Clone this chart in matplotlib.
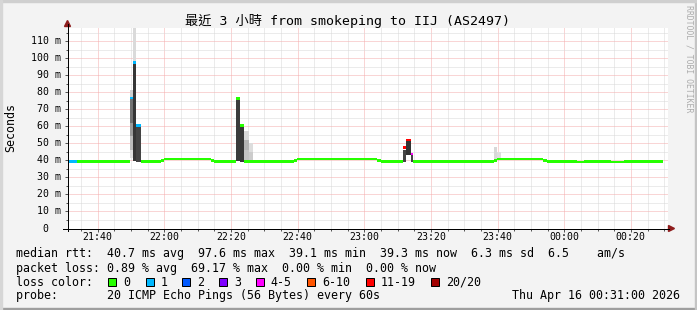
import matplotlib
matplotlib.use("Agg")
import matplotlib.pyplot as plt
import matplotlib.transforms as mtrans
from matplotlib.patches import Rectangle, Polygon
from matplotlib.lines import Line2D

# ---------------- data ----------------
title = "最近 3 小時 from smokeping to IIJ (AS2497)"
y_label = "Seconds"
watermark = "RRDTOOL / TOBI OETIKER"

# x axis: minutes since 21:31
x_range = [0, 180]
xtick_minutes = [9, 29, 49, 69, 89, 109, 129, 149, 169]
xtick_labels = ["21:40", "22:00", "22:20", "22:40", "23:00", "23:20", "23:40", "00:00", "00:20"]
xminor_minutes = list(range(4, 180, 5))

y_range = [0, 117.65]
ytick_values = [0, 10, 20, 30, 40, 50, 60, 70, 80, 90, 100, 110]
ytick_labels = ["0  ", "10 m", "20 m", "30 m", "40 m", "50 m", "60 m", "70 m",
                "80 m", "90 m", "100 m", "110 m"]
yminor_values = list(range(5, 117, 5))

loss_labels = ["0", "1", "2", "3", "4-5", "6-10", "11-19", "20/20"]
loss_colors = ["#26ff00", "#00b8ff", "#0059ff", "#7e00ff", "#ff00ff", "#ff5500", "#ff0000", "#a10000"]

# median rtt (ms) per time span, with loss class index
median_t0 = [0.0, 2.7, 18.7, 19.6, 20.6, 21.9, 27.9, 28.9, 42.9, 43.9, 50.4, 51.7, 52.9, 67.9, 68.9,
             92.7, 93.9, 100.5, 101.6, 102.9, 103.7, 127.9, 128.9, 142.7, 143.7, 152.7, 154.9, 162.9, 166.9]
median_t1 = [2.7, 18.7, 19.6, 20.6, 21.9, 27.9, 28.9, 42.9, 43.9, 50.4, 51.7, 52.9, 67.9, 68.9, 92.7,
             93.9, 100.5, 101.6, 102.9, 103.7, 127.9, 128.9, 142.7, 143.7, 152.7, 154.9, 162.9, 166.9, 178.7]
median_ms = [39.3, 39.3, 76.5, 97.6, 60.6, 39.3, 40.0, 40.8, 40.0, 39.3, 76.2, 60.6, 39.3, 40.0, 40.8,
             40.0, 39.3, 47.7, 52.0, 43.7, 39.3, 40.0, 40.8, 40.0, 39.3, 39.1, 39.3, 39.1, 39.3]
median_loss = [1, 0, 1, 1, 1, 0, 0, 0, 0, 0, 0, 0, 0, 0, 0,
               0, 0, 6, 6, 4, 0, 0, 0, 0, 0, 0, 0, 0, 0]

# smoke (ping spread) spans
smoke_t0 = [18.7, 18.7, 18.7, 18.7, 18.7, 19.6, 19.6, 20.6, 50.4, 51.7, 53.0, 53.0, 53.0, 54.3, 54.3,
            100.5, 101.6, 102.9, 127.9, 128.7]
smoke_t1 = [19.6, 19.6, 19.6, 19.6, 19.6, 20.6, 20.6, 21.9, 51.7, 52.9, 54.3, 54.3, 54.3, 55.6, 55.6,
            101.6, 102.9, 103.7, 128.7, 129.9]
smoke_lo = [41.5, 46.0, 54.0, 62.0, 77.3, 39.5, 98.4, 38.8, 39.5, 39.0, 40.3, 46.0, 52.0, 40.3, 45.0,
            39.0, 43.0, 39.0, 40.5, 40.5]
smoke_hi = [46.0, 54.0, 62.0, 75.7, 81.0, 96.8, 117.65, 59.8, 75.4, 59.8, 46.0, 52.0, 57.0, 45.0, 50.0,
            45.9, 51.3, 42.9, 47.8, 45.0]
smoke_shade = ["#e0e0e0", "#bcbcbc", "#9a9a9a", "#727272", "#d0d0d0", "#363636", "#dadada", "#444444",
               "#3c3c3c", "#383838", "#c4c4c4", "#b4b4b4", "#d8d8d8", "#cccccc", "#dddddd",
               "#444444", "#333333", "#444444", "#d8d8d8", "#dedede"]

legend_line1 = "median rtt:  40.7 ms avg  97.6 ms max  39.1 ms min  39.3 ms now  6.3 ms sd  6.5    am/s"
legend_line2 = "packet loss: 0.89 % avg  69.17 % max  0.00 % min  0.00 % now"
legend_line3 = "loss color:"
legend_line4 = "probe:       20 ICMP Echo Pings (56 Bytes) every 60s"
timestamp = "Thu Apr 16 00:31:00 2026"

# ---------------- layout ----------------
W, H = 697, 310
MONO = "DejaVu Sans Mono"
PX = 0.72  # one pixel in points at 100 dpi


def fx(x):
    return x / W


def fy(y):
    return 1 - y / H


fig = plt.figure(figsize=(W / 100, H / 100), dpi=100, facecolor="#f3f3f3")

# outer frame shades
fig.patches.append(Rectangle((0, 0), 1, 2 / H, transform=fig.transFigure, color="#9e9e9e", zorder=0))
fig.patches.append(Rectangle((1 - 2 / W, 0), 2 / W, 1, transform=fig.transFigure, color="#c4c4c4", zorder=0))
fig.patches.append(Rectangle((0, 1 - 2 / H), 1, 2 / H, transform=fig.transFigure, color="#cfcfcf", zorder=0))
fig.patches.append(Rectangle((0, 0), 2 / W, 1, transform=fig.transFigure, color="#d6d6d6", zorder=0))

ax = fig.add_axes([fx(67.5), fy(228.5), 600 / W, 200.5 / H])
ax.set_facecolor("white")
ax.set_xlim(*x_range)
ax.set_ylim(*y_range)
for s in ax.spines.values():
    s.set_visible(False)
ax.set_xticks(xtick_minutes)
ax.set_xticks(xminor_minutes, minor=True)
ax.set_yticks(ytick_values)
ax.set_yticks(yminor_values, minor=True)
ax.tick_params(which="both", labelbottom=False, labelleft=False, direction="out",
               color="#555555", width=PX)
ax.tick_params(which="major", length=3 * PX)
ax.tick_params(which="minor", length=2 * PX)
ax.grid(which="minor", color="#d9d9d9", linestyle=(0, (1, 1)), linewidth=PX)
ax.grid(which="major", color="#f5acac", linestyle=(0, (1, 1)), linewidth=PX)
ax.set_axisbelow(True)

# smoke
ax.bar(smoke_t0, [h - l for h, l in zip(smoke_hi, smoke_lo)],
       width=[b - a for a, b in zip(smoke_t0, smoke_t1)], bottom=smoke_lo,
       align="edge", color=smoke_shade, linewidth=0, zorder=2)

# median line blocks coloured by loss
cap = 1.6
ax.bar(median_t0, [cap] * len(median_ms),
       width=[b - a for a, b in zip(median_t0, median_t1)],
       bottom=[m - cap / 2 for m in median_ms], align="edge",
       color=[loss_colors[i] for i in median_loss], linewidth=0, zorder=3)

# axis lines + arrows
fig.add_artist(Line2D([fx(67.5), fx(67.5)], [fy(231), fy(24)], color="black", lw=PX))
fig.add_artist(Line2D([fx(63), fx(669)], [fy(228.5), fy(228.5)], color="black", lw=PX))
fig.add_artist(Polygon([(fx(64.5), fy(26.5)), (fx(70.5), fy(26.5)), (fx(67.5), fy(20.5))],
                       closed=True, transform=fig.transFigure, color="#8e1c1c"))
fig.add_artist(Polygon([(fx(668.5), fy(225.5)), (fx(668.5), fy(231.5)), (fx(674.5), fy(228.5))],
                       closed=True, transform=fig.transFigure, color="#8e1c1c"))

# tick labels
tick_fs = 7.1
char_w = tick_fs * 0.602 / 72 * 100
yt = mtrans.blended_transform_factory(fig.transFigure, ax.transData)
for v, lab in zip(ytick_values, ytick_labels):
    fig.text(fx(60.5 - len(lab) * char_w), v, lab, transform=yt, ha="left", va="center",
             fontsize=tick_fs, family=MONO, color="black")
xt = mtrans.blended_transform_factory(ax.transData, fig.transFigure)
for m, lab in zip(xtick_minutes, xtick_labels):
    fig.text(m, fy(237), lab, transform=xt, ha="center", va="center",
             fontsize=tick_fs, family=MONO, color="black")

# title, y label, watermark
fig.text(fx(347.5), fy(21.5), title, ha="center", va="center", fontsize=9.5,
         family=[MONO, "Noto Sans CJK TC"], color="black")
fig.text(fx(10.5), fy(128), y_label, rotation=90, ha="center", va="center",
         fontsize=8.4, family=MONO, color="black")
fig.text(fx(688.5), fy(5), watermark, rotation=270, ha="center", va="top",
         fontsize=5.9, family=MONO, color="#acacac")

# legend
leg_fs = 8.4
fig.text(fx(16), fy(254), legend_line1, ha="left", va="center", fontsize=leg_fs, family=MONO)
fig.text(fx(16), fy(268.3), legend_line2, ha="left", va="center", fontsize=leg_fs, family=MONO)
fig.text(fx(16), fy(282.3), legend_line3, ha="left", va="center", fontsize=leg_fs, family=MONO)
fig.text(fx(16), fy(295.7), legend_line4, ha="left", va="center", fontsize=leg_fs, family=MONO)
fig.text(fx(680), fy(295.7), timestamp, ha="right", va="center", fontsize=leg_fs, family=MONO)

box_left = [108.3, 145.7, 182.3, 219.0, 255.7, 307.3, 365.7, 431.0]
for bx, col, lab in zip(box_left, loss_colors, loss_labels):
    fig.patches.append(Rectangle((fx(bx), fy(286)), 8 / W, 8 / H, transform=fig.transFigure,
                                 facecolor=col, edgecolor="black", linewidth=PX, zorder=3))
    fig.text(fx(bx + 15), fy(282.3), lab, ha="left", va="center", fontsize=leg_fs, family=MONO)

fig.savefig("out.png", dpi=100, facecolor=fig.get_facecolor())
